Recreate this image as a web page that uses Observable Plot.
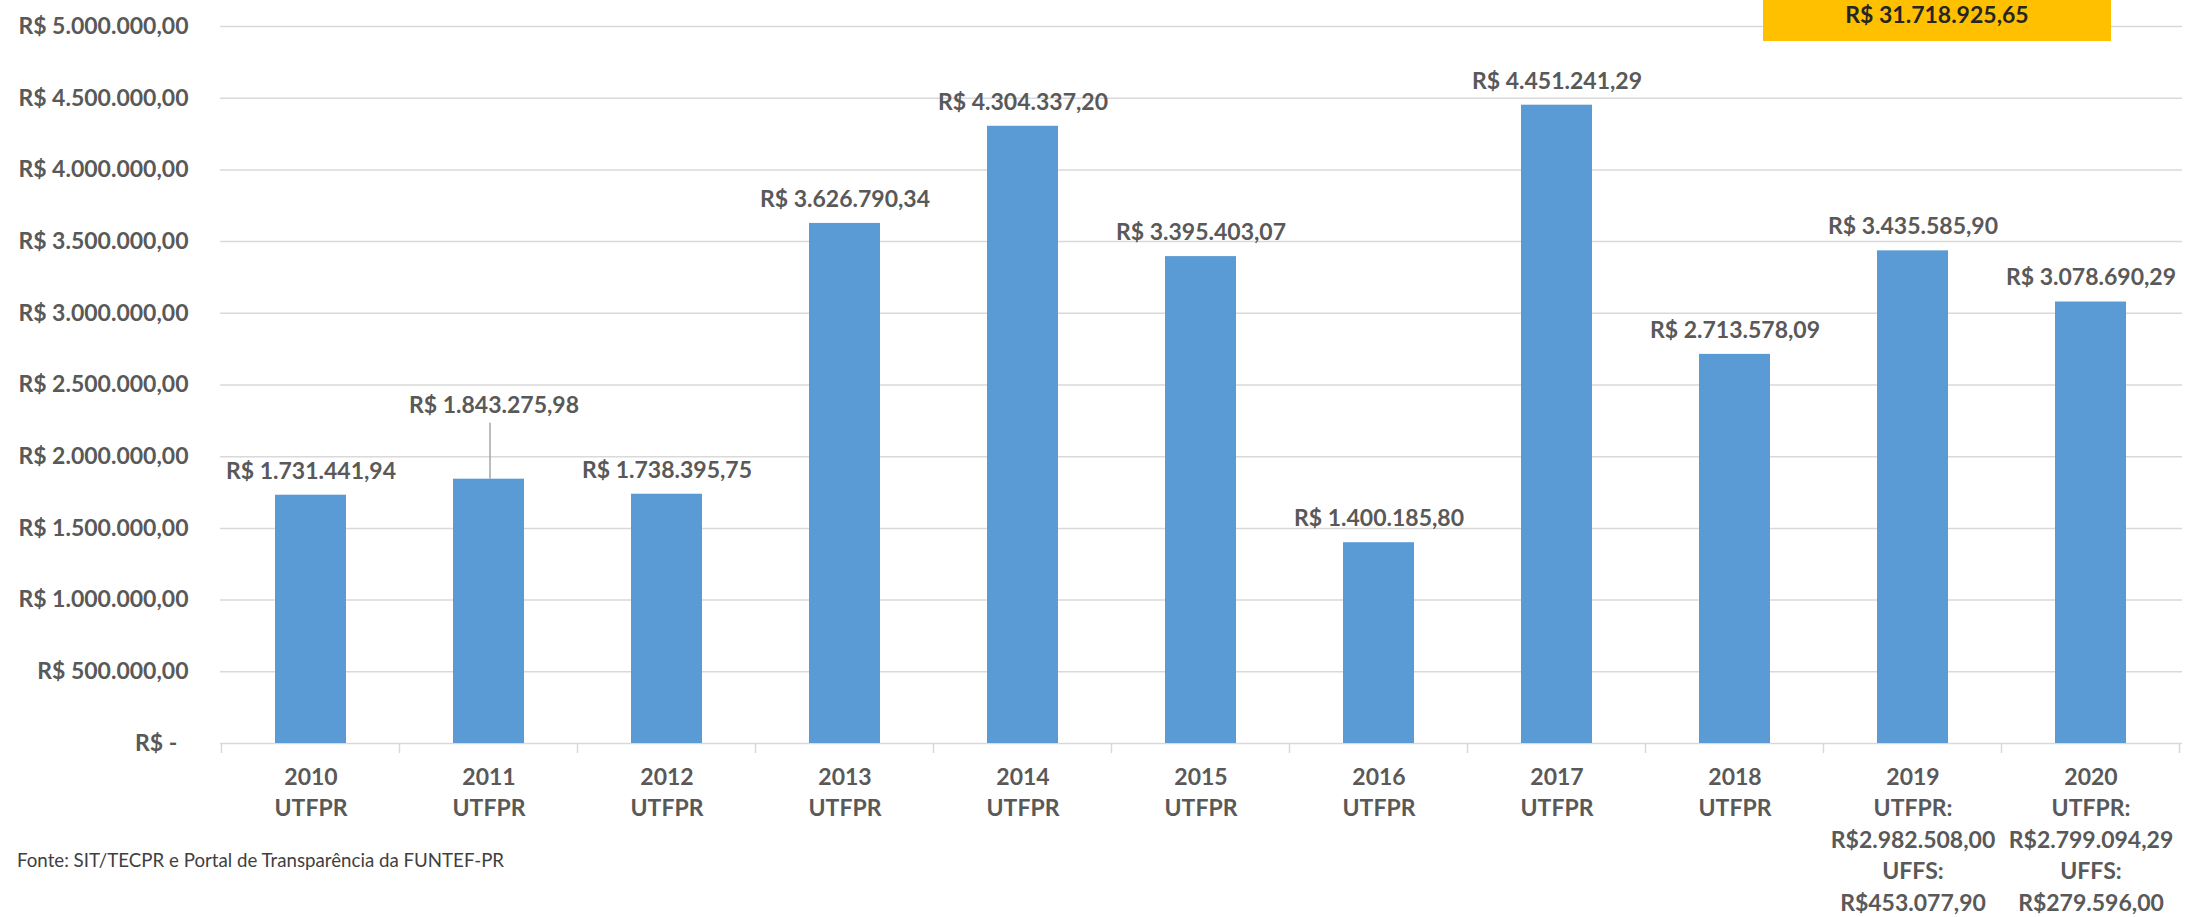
<!DOCTYPE html>
<html>
<head>
<meta charset="utf-8">
<script src="https://cdn.jsdelivr.net/npm/d3@7"></script>
<script src="https://cdn.jsdelivr.net/npm/@observablehq/plot@0.6"></script>
<style>
  html, body { margin: 0; padding: 0; background: #ffffff; }
  #wrap { position: relative; width: 2186px; height: 917px; overflow: hidden; font-family: Lato, sans-serif; }
  #total { position: absolute; left: 1763px; top: 0; width: 348px; height: 39px; padding-top: 2px; background: #FFC000;
           color: #262626; font-weight: 700; font-size: 23px; line-height: 24px; text-align: center; }
  #caption { position: absolute; left: 17px; top: 849px; font-size: 18.7px; line-height: 22px; color: #404040; white-space: nowrap; }
</style>
</head>
<body>
<div id="wrap">
  <div id="chart"></div>
  <div id="total"></div>
  <div id="caption"></div>
</div>
<script>
const categories = ["2010", "2011", "2012", "2013", "2014", "2015", "2016", "2017", "2018", "2019", "2020"];
const values = [1731441.94, 1843275.98, 1738395.75, 3626790.34, 4304337.20, 3395403.07, 1400185.80, 4451241.29, 2713578.09, 3435585.90, 3078690.29];
const tickLabels = [
  "2010\nUTFPR", "2011\nUTFPR", "2012\nUTFPR", "2013\nUTFPR", "2014\nUTFPR", "2015\nUTFPR",
  "2016\nUTFPR", "2017\nUTFPR", "2018\nUTFPR",
  "2019\nUTFPR:\nR$2.982.508,00\nUFFS:\nR$453.077,90",
  "2020\nUTFPR:\nR$2.799.094,29\nUFFS:\nR$279.596,00"
];
const yTicks = [0, 500000, 1000000, 1500000, 2000000, 2500000, 3000000, 3500000, 4000000, 4500000, 5000000];
const captionText = "Fonte: SIT/TECPR e Portal de Transparência da FUNTEF-PR";

const data = categories.map((c, i) => ({category: c, value: values[i], tick: tickLabels[i]}));

const locale = d3.formatLocale({decimal: ",", thousands: ".", grouping: [3], currency: ["R$ ", ""]});
const num = locale.format(",.2f");
const brl = v => v === 0 ? "R$ -\u00A0\u00A0" : "R$ " + num(v);

// style constants
const W = 2186, H = 917;
const mL = 220, mR = 4, mT = 26, mB = 174;
const liftedCategory = "2011";
const liftPx = 74;       // raised label offset
const leaderPx = 56;     // leader line length
const yMax = 5000000;
const pxToData = yMax / (H - mT - mB);

const boundaryTicks = (index, scales, vals, dims) => {
  const x = scales.x;
  const bw = typeof x.bandwidth === "function" ? x.bandwidth() : x.bandwidth;
  const step = typeof x.step === "function" ? x.step() : (dims.width - dims.marginLeft - dims.marginRight) / categories.length;
  const y0 = scales.y(0);
  const g = d3.create("svg:g").attr("stroke", "#D9D9D9").attr("stroke-width", 1.5);
  categories.forEach((c, i) => {
    const cx = x(c) + bw / 2;
    g.append("line").attr("x1", cx - step / 2).attr("x2", cx - step / 2).attr("y1", y0).attr("y2", y0 + 10);
    if (i === categories.length - 1)
      g.append("line").attr("x1", cx + step / 2).attr("x2", cx + step / 2).attr("y1", y0).attr("y2", y0 + 10);
  });
  return g.node();
};

const chart = Plot.plot({
  width: W,
  height: H,
  marginLeft: mL,
  marginRight: mR,
  marginTop: mT,
  marginBottom: mB,
  style: {fontFamily: "Lato, sans-serif", fontSize: "23px", fontWeight: 700, color: "#595959", background: "transparent", overflow: "visible"},
  x: {domain: categories, paddingInner: 0.6, paddingOuter: 0.3, axis: null},
  y: {domain: [0, yMax], ticks: yTicks, tickFormat: brl, tickSize: 0, tickPadding: 32, label: null},
  marks: [
    Plot.ruleY(yTicks, {stroke: "#D9D9D9", strokeWidth: 1.5}),
    boundaryTicks,
    Plot.barY(data, {x: "category", y: "value", fill: "#5B9BD5"}),
    Plot.text(data.filter(d => d.category !== liftedCategory), {
      x: "category", y: "value", text: d => brl(d.value), dy: -24, fill: "#595959"
    }),
    Plot.ruleX(data.filter(d => d.category === liftedCategory), {
      x: "category", y1: "value", y2: d => d.value + leaderPx * pxToData, stroke: "#A6A6A6", strokeWidth: 1.5, dx: 1
    }),
    Plot.text(data.filter(d => d.category === liftedCategory), {
      x: "category", y: "value", text: d => brl(d.value), dy: -liftPx, dx: 5, fill: "#595959"
    }),
    Plot.text(data, {
      x: "category", text: "tick", frameAnchor: "bottom", lineAnchor: "top", dy: 19, lineHeight: 1.37, fill: "#595959"
    })
  ]
});

document.getElementById("chart").appendChild(chart);
document.getElementById("total").textContent = brl(d3.sum(values));
document.getElementById("caption").textContent = captionText;
</script>
</body>
</html>
